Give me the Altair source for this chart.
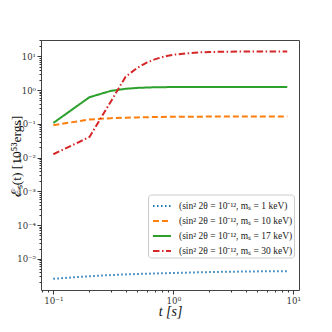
import altair as alt
import pandas as pd

t = [0.1, 0.2, 0.3, 0.4, 0.5, 0.6, 0.7, 0.8, 0.9, 1.0, 1.5, 2.0, 3.0, 4.0, 5.0, 6.0, 7.0, 8.0, 8.9]

e_1kev = [2.56e-6, 3.05e-6, 3.3e-6, 3.45e-6, 3.55e-6, 3.62e-6, 3.68e-6, 3.73e-6, 3.77e-6, 3.8e-6,
          3.95e-6, 4.05e-6, 4.15e-6, 4.2e-6, 4.24e-6, 4.27e-6, 4.29e-6, 4.3e-6, 4.3e-6]
e_10kev = [0.092, 0.135, 0.148, 0.153, 0.156, 0.158, 0.160, 0.161, 0.162, 0.163,
           0.164, 0.165, 0.165, 0.166, 0.166, 0.166, 0.166, 0.166, 0.166]
e_17kev = [0.107, 0.62, 0.95, 1.10, 1.17, 1.20, 1.22, 1.23, 1.235, 1.24,
           1.24, 1.24, 1.24, 1.24, 1.24, 1.24, 1.24, 1.24, 1.24]
e_30kev = [0.0126, 0.041, 0.45, 2.5, 4.6, 6.6, 8.2, 9.5, 10.5, 11.3,
           13.0, 13.6, 13.9, 14.0, 14.0, 14.0, 14.0, 14.0, 14.0]

series_labels = [
    "(sin² 2θ = 10⁻¹², mₛ = 1 keV)",
    "(sin² 2θ = 10⁻¹², mₛ = 10 keV)",
    "(sin² 2θ = 10⁻¹², mₛ = 17 keV)",
    "(sin² 2θ = 10⁻¹², mₛ = 30 keV)",
]
series_values = [e_1kev, e_10kev, e_17kev, e_30kev]
colors = ["#1f77b4", "#ff7f0e", "#2ca02c", "#d62728"]
dashes = [[1.5, 2.5], [6, 3], [1, 0], [6.5, 2.5, 1.5, 2.5]]

x_major = [0.1, 1, 10]
x_major_labels = ["10⁻¹", "10⁰", "10¹"]
y_major = [1e-5, 1e-4, 1e-3, 1e-2, 1e-1, 1, 10]
y_major_labels = ["10⁻⁵", "10⁻⁴", "10⁻³", "10⁻²", "10⁻¹", "10⁰", "10¹"]

x_domain = [0.0789, 11.15]
y_domain = [1.19e-6, 30.8]

x_minor = [m * 10.0 ** k for k in (-2, -1, 0) for m in range(2, 10)]
x_minor = [v for v in x_minor if x_domain[0] <= v <= x_domain[1]]
y_minor = [m * 10.0 ** k for k in range(-6, 2) for m in range(2, 10)]
y_minor = [v for v in y_minor if y_domain[0] <= v <= y_domain[1]]

rows = []
for lab, vals in zip(series_labels, series_values):
    for ti, v in zip(t, vals):
        rows.append({"t": ti, "E": v, "series": lab})
df = pd.DataFrame(rows)


def label_expr(vals, labels):
    expr = "''"
    for v, l in zip(vals, labels):
        expr = f"abs(log(datum.value) - log({v})) < 0.01 ? '{l}' : ({expr})"
    return expr


FONT = "Liberation Serif"
LFONT = "DejaVu Serif"

xscale = alt.Scale(type="log", domain=x_domain, nice=False)
yscale = alt.Scale(type="log", domain=y_domain, nice=False)

lines = alt.Chart(df).mark_line(strokeWidth=2, clip=True).encode(
    x=alt.X("t:Q", scale=xscale,
            axis=alt.Axis(orient="bottom", values=x_major,
                          labelExpr=label_expr(x_major, x_major_labels),
                          title="t [s]", titleFontStyle="italic", titleFontSize=14,
                          titleFont=FONT, titleFontWeight="normal", titleColor="#111",
                          titleY=25.5, titleBaseline="alphabetic",
                          labelFont=LFONT, labelFontSize=8.7, labelColor="#333",
                          labelPadding=2, tickSize=4, tickColor="#333",
                          domain=False, grid=False, labelFlush=False)),
    y=alt.Y("E:Q", scale=yscale,
            axis=alt.Axis(orient="left", values=y_major,
                          labelExpr=label_expr(y_major, y_major_labels),
                          title="ℰₛ(t) [10⁵³ergs]", titleFontSize=13.5, titleFont=FONT,
                          titleFontWeight="normal", titleColor="#111",
                          titleX=-21, titleY=116, titleAngle=-90, titleBaseline="alphabetic",
                          titleAlign="center",
                          labelFont=LFONT, labelFontSize=8.5, labelColor="#333",
                          labelPadding=1.5, tickSize=4, tickColor="#333",
                          domain=False, grid=False, labelFlush=False)),
    color=alt.Color("series:N", sort=series_labels,
                    scale=alt.Scale(domain=series_labels, range=colors),
                    legend=alt.Legend(title=None, orient="none", legendX=107, legendY=154.5,
                                      symbolType="stroke", symbolSize=324, symbolStrokeWidth=2,
                                      symbolOffset=2.5,
                                      labelFont=FONT, labelFontSize=9.5, labelColor="#222",
                                      labelLimit=220, rowPadding=-6.5, labelOffset=7,
                                      fillColor="white", strokeColor="#cccccc",
                                      cornerRadius=3, padding=1.5)),
    strokeDash=alt.StrokeDash("series:N", sort=series_labels,
                              scale=alt.Scale(domain=series_labels, range=dashes),
                              legend=None),
)

minor = alt.Chart(df).mark_point(opacity=0).encode(
    x=alt.X("t:Q", scale=xscale,
            axis=alt.Axis(orient="bottom", values=x_minor, labels=False, tickSize=2,
                          tickColor="#333", domain=False, grid=False, title=None)),
    y=alt.Y("E:Q", scale=yscale,
            axis=alt.Axis(orient="left", values=y_minor, labels=False, tickSize=2,
                          tickColor="#333", domain=False, grid=False, title=None)),
)

chart = alt.layer(minor, lines).resolve_axis(x="independent", y="independent").properties(
    width=258, height=250,
    autosize=alt.AutoSizeParams(type="none"),
    padding={"left": 33, "top": 32, "right": 17, "bottom": 34},
).configure_view(stroke="#444", strokeWidth=1)

chart.save("out.html", embed_options={"renderer": "svg", "actions": False})
